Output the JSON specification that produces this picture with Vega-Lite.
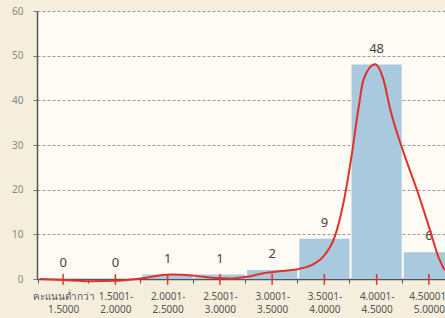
{
  "$schema": "https://vega.github.io/schema/vega-lite/v6.json",
  "width": 408,
  "height": 268,
  "autosize": {"type": "none"},
  "padding": {"left": 37, "top": 11, "right": 0, "bottom": 39},
  "background": "#f6eedc",
  "config": {
    "view": {"stroke": null, "fill": "#fdfbf4"},
    "font": "Noto Sans"
  },
  "datasets": {
    "bars": [
      {"bin": "คะแนนต่ำกว่า|1.5000", "count": 0},
      {"bin": "1.5001-|2.0000", "count": 0},
      {"bin": "2.0001-|2.5000", "count": 1},
      {"bin": "2.5001-|3.0000", "count": 1},
      {"bin": "3.0001-|3.5000", "count": 2},
      {"bin": "3.5001-|4.0000", "count": 9},
      {"bin": "4.0001-|4.5000", "count": 48},
      {"bin": "4.50001-|5.0000", "count": 6}
    ],
    "curve": [
      {"pos": 0.06, "value": 0},
      {"pos": 0.5, "value": -0.2},
      {"pos": 1.01, "value": -0.5},
      {"pos": 1.49, "value": -0.4},
      {"pos": 1.97, "value": 0.1},
      {"pos": 2.55, "value": 1.0},
      {"pos": 3.05, "value": 0.7},
      {"pos": 3.44, "value": 0.2},
      {"pos": 3.7, "value": 0.1},
      {"pos": 4.02, "value": 0.5},
      {"pos": 4.33, "value": 1.3},
      {"pos": 4.7, "value": 1.8},
      {"pos": 5.03, "value": 2.3},
      {"pos": 5.3, "value": 3.4},
      {"pos": 5.48, "value": 5.0},
      {"pos": 5.74, "value": 11.0},
      {"pos": 5.89, "value": 18.5},
      {"pos": 6.02, "value": 27.5},
      {"pos": 6.15, "value": 38},
      {"pos": 6.25, "value": 44.7},
      {"pos": 6.47, "value": 48.1},
      {"pos": 6.63, "value": 44.7},
      {"pos": 6.76, "value": 38},
      {"pos": 7.04, "value": 27.5},
      {"pos": 7.27, "value": 20},
      {"pos": 7.52, "value": 11},
      {"pos": 7.68, "value": 5},
      {"pos": 7.8, "value": 2}
    ]
  },
  "layer": [
    {
      "layer": [
        {
          "data": {"name": "bars"},
          "mark": {"type": "bar", "color": "#a9c9df"},
          "encoding": {
            "x": {
              "field": "bin", "type": "nominal", "sort": null,
              "scale": {"range": [0, 418], "paddingInner": 0.04, "paddingOuter": 0.02},
              "axis": {
                "title": null,
                "labelExpr": "datum.value ? split(datum.value, '|') : ''",
                "labelAngle": 0,
                "labelOverlap": false,
                "labelBound": false,
                "tickBand": "extent",
                "tickColor": "#555",
                "tickSize": 4,
                "domainColor": "#555",
                "domainWidth": 1.5,
                "labelColor": "#555",
                "labelFontSize": 10,
                "labelPadding": 8,
                "labelLineHeight": 13
              }
            },
            "y": {
              "field": "count", "type": "quantitative",
              "scale": {"domain": [0, 60], "nice": false},
              "axis": {
                "title": null,
                "values": [0, 10, 20, 30, 40, 50, 60],
                "grid": true,
                "gridDash": [3, 2],
                "gridColor": "#9a9a9a",
                "gridOpacity": 1,
                "domainColor": "#555",
                "domainWidth": 1.5,
                "tickColor": "#777",
                "tickSize": 4,
                "labelColor": "#888",
                "labelFontSize": 10,
                "labelPadding": 10
              }
            }
          }
        },
        {
          "data": {"name": "bars"},
          "mark": {"type": "rule", "color": "#e0322b", "strokeWidth": 1.5},
          "encoding": {
            "x": {"field": "bin", "type": "nominal", "sort": null},
            "y": {"datum": -1.3},
            "y2": {"datum": 1.1}
          }
        },
        {
          "data": {"name": "bars"},
          "mark": {"type": "text", "baseline": "bottom", "dy": -9, "fontSize": 13, "color": "#444"},
          "encoding": {
            "x": {"field": "bin", "type": "nominal", "sort": null},
            "y": {"field": "count", "type": "quantitative"},
            "text": {"field": "count", "type": "quantitative"}
          }
        },
        {
          "mark": {"type": "rule", "color": "#555", "strokeWidth": 1.5},
          "encoding": {"y": {"datum": 60}}
        }
      ]
    },
    {
      "data": {"name": "curve"},
      "mark": {"type": "line", "interpolate": "monotone", "color": "#e0322b", "strokeWidth": 2},
      "encoding": {
        "x": {"field": "pos", "type": "quantitative", "scale": {"domain": [0, 8], "range": [0, 418], "nice": false}, "axis": null},
        "y": {"field": "value", "type": "quantitative"}
      }
    }
  ],
  "resolve": {"scale": {"x": "independent"}}
}
